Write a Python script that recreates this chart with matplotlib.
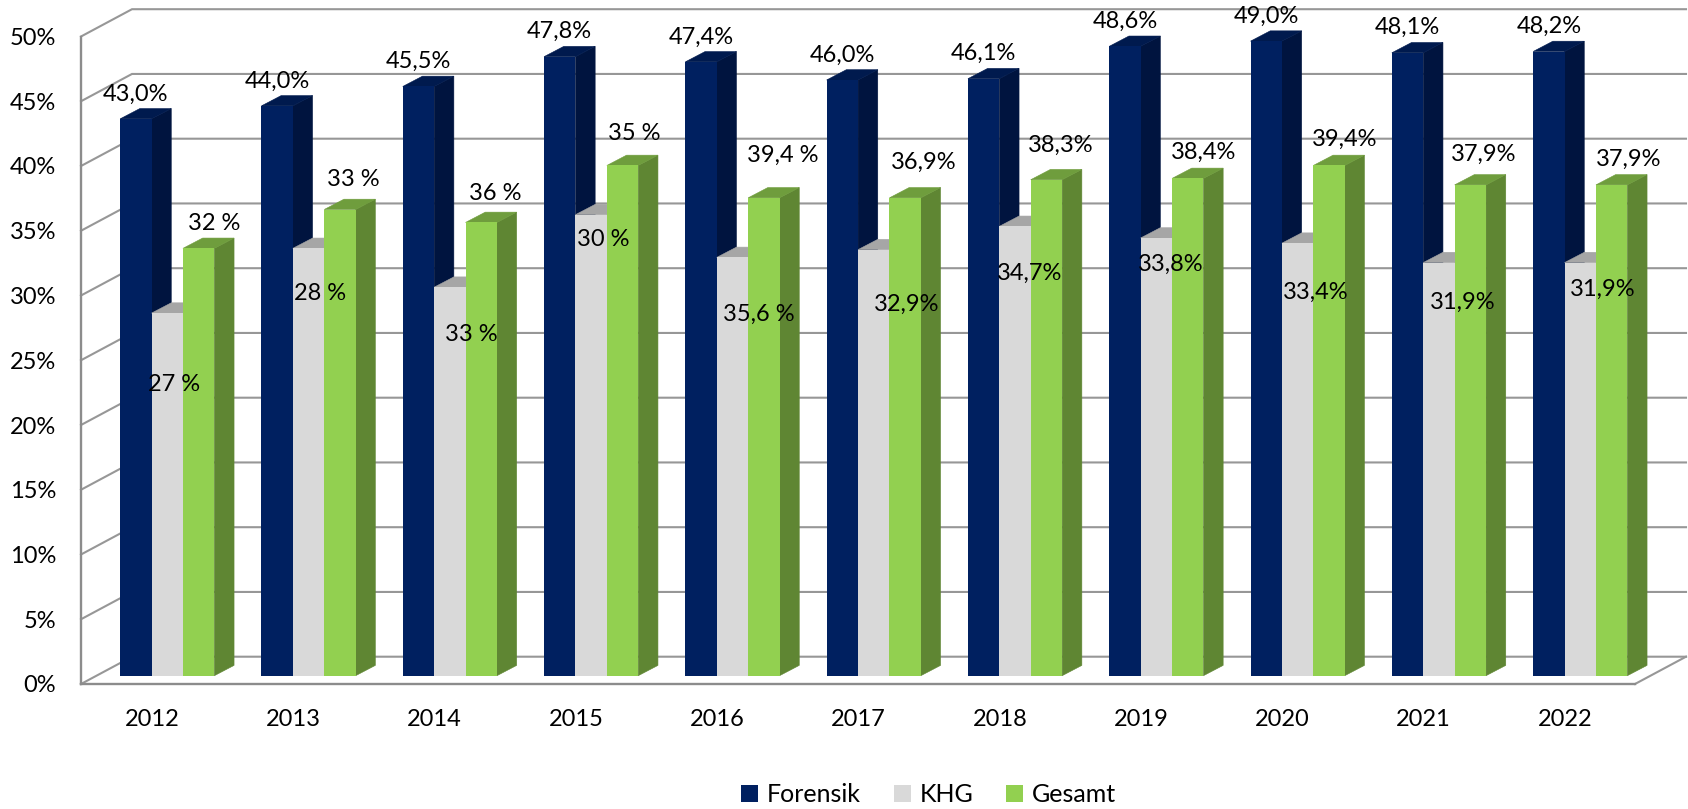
import numpy as np
import matplotlib
matplotlib.use("Agg")
import matplotlib.pyplot as plt
from matplotlib.patches import Patch

plt.rcParams["font.family"] = ["Lato", "DejaVu Sans"]

years = ["2012", "2013", "2014", "2015", "2016", "2017", "2018", "2019", "2020", "2021", "2022"]
series_names = ["Forensik", "KHG", "Gesamt"]

# bar heights as drawn (the printed labels do not always agree with them)
forensik = [43.0, 44.0, 45.5, 47.8, 47.4, 46.0, 46.1, 48.6, 49.0, 48.1, 48.2]
khg = [28.0, 33.0, 30.0, 35.6, 32.3, 32.9, 34.7, 33.8, 33.4, 31.9, 31.9]
gesamt = [33.0, 36.0, 35.0, 39.4, 36.9, 36.9, 38.3, 38.4, 39.4, 37.9, 37.9]

forensik_labels = ["43,0%", "44,0%", "45,5%", "47,8%", "47,4%", "46,0%", "46,1%", "48,6%", "49,0%", "48,1%", "48,2%"]
khg_labels = ["27 %", "28 %", "33 %", "30 %", "35,6 %", "32,9%", "34,7%", "33,8%", "33,4%", "31,9%", "31,9%"]
gesamt_labels = ["32 %", "33 %", "36 %", "35 %", "39,4 %", "36,9%", "38,3%", "38,4%", "39,4%", "37,9%", "37,9%"]

# hand placed label offsets from the bar top, in pixels
khg_dx = [7, 12, 21, 12, 26, 33, 15, 14, 18, 24, 22]
khg_dy = [-71, -45, -47, -25, -57, -55, -47, -26, -49, -40, -27]
gesamt_dx = [16, 13, 14, 12, 19, 19, 14, 16, 16, 13, 17]
gesamt_dy = [25, 30, 29, 32, 43, 36, 34, 26, 26, 31, 26]
forensik_dx = [0] * 11
forensik_dy = [25] * 11

colors = {
    "Forensik": ("#002060", "#00143f", "#001a4e"),
    "KHG": ("#d9d9d9", "#bdbdbd", "#a6a6a6"),
    "Gesamt": ("#92d050", "#5f8633", "#6f9d3d"),
}

W, H = 1688, 809
PX = 72 / 100  # pixels to points

fig = plt.figure(figsize=(W / 100, H / 100), dpi=100)
ax = fig.add_axes([81 / W, 1 - 684 / H, (1635 - 81) / W, (684 - 36.5) / H])

step = 141.3
xmin, xmax = (81 - 167.25) / step, (1635 - 167.25) / step
ax.set_xlim(xmin, xmax)
ax.set_ylim(0, 50)
ax.patch.set_visible(False)

y_px = (684 - 36.5) / 50
base = (684 - 675.7) / y_px
wall_dx, wall_dy = 51 / step, (684 - 656.7) / y_px
bar_w = 31.4 / step
bar_dx, bar_dy = 19.7 / step, 10.3 / y_px

grid_color = "#979797"
ticks = np.arange(0, 51, 5)

# walls and floor
for t in ticks:
    ax.plot([xmin, xmin + wall_dx, xmax + wall_dx], [t, t + wall_dy, t + wall_dy],
            color=grid_color, lw=1.5, clip_on=False, zorder=1, solid_joinstyle="miter")
ax.plot([xmax, xmax + wall_dx], [0, wall_dy], color=grid_color, lw=1.5, clip_on=False, zorder=1)

for s in ["top", "right"]:
    ax.spines[s].set_visible(False)
for s in ["left", "bottom"]:
    ax.spines[s].set_color("#8c8c8c")
    ax.spines[s].set_linewidth(1.7)
    ax.spines[s].set_zorder(2)

ax.set_yticks(ticks)
ax.set_yticklabels([f"{t}%" for t in ticks], fontsize=17, color="black")
ax.set_xticks(np.arange(len(years)) - 15.25 / step)
ax.set_xticklabels(years, fontsize=17, color="black")
ax.tick_params(axis="y", length=0, pad=18)
ax.tick_params(axis="x", length=0, pad=18)

all_values = [forensik, khg, gesamt]
all_labels = [forensik_labels, khg_labels, gesamt_labels]
all_dx = [forensik_dx, khg_dx, gesamt_dx]
all_dy = [forensik_dy, khg_dy, gesamt_dy]

z = 3
label_jobs = []
for i in range(len(years)):
    for j, name in enumerate(series_names):
        front, side, top = colors[name]
        v = all_values[j][i]
        left = i + (j - 1.5) * bar_w
        right = left + bar_w
        y1 = base + v
        ax.fill([right, right + bar_dx, right + bar_dx, right],
                [base, base + bar_dy, y1 + bar_dy, y1],
                facecolor=side, edgecolor=side, lw=0.4, clip_on=False, zorder=z)
        ax.fill([left, right, right + bar_dx, left + bar_dx],
                [y1, y1, y1 + bar_dy, y1 + bar_dy],
                facecolor=top, edgecolor=top, lw=0.4, clip_on=False, zorder=z)
        ax.bar(left, v, width=bar_w, bottom=base, align="edge", color=front,
               clip_on=False, zorder=z)
        z += 1
        label_jobs.append(((left + right) / 2, y1, all_labels[j][i], all_dx[j][i], all_dy[j][i]))

for x, y, txt, dx, dy in label_jobs:
    ax.annotate(txt, (x, y), xytext=(dx * PX, dy * PX), textcoords="offset points",
                ha="center", va="center", fontsize=17, color="black",
                annotation_clip=False, zorder=100)

handles = [Patch(color=colors[n][0], lw=0) for n in series_names]
fig.legend(handles, series_names, loc="center", ncol=3, frameon=False, fontsize=18,
           bbox_to_anchor=(928.5 / W, 1 - 795 / H), handlelength=0.68, handleheight=0.68,
           handletextpad=0.35, columnspacing=1.3)

fig.savefig("out.png", dpi=100)
